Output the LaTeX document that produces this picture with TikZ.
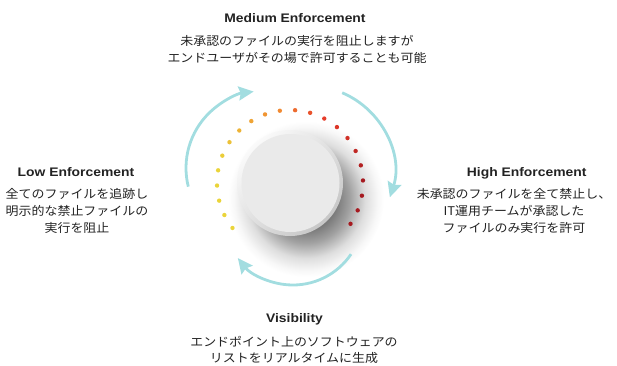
\documentclass[tikz,border=0pt]{standalone}
\usepackage{fontspec}
\setmainfont{Liberation Sans}
\newfontfamily\headfont{Liberation Sans}[FakeStretch=1.12]
\newfontfamily\jpfont{Noto Sans CJK JP}[FakeStretch=1.08]
\usetikzlibrary{arrows.meta}

\definecolor{cycleblue}{RGB}{162,221,224}
\definecolor{dotY}{RGB}{234,212,58}
\definecolor{dotO}{RGB}{241,138,50}
\definecolor{dotR}{RGB}{230,60,42}
\definecolor{dotD}{RGB}{166,26,32}
\definecolor{textdark}{RGB}{34,34,34}
\definecolor{knobface}{RGB}{234,234,234}

% soft drop shadow under the dial (TikZ maps 25bp to the circle's radius)
\pgfdeclareradialshading{knobshadow}{\pgfpoint{0bp}{0bp}}{%
  color(0bp)=(black!62); color(9bp)=(black!55); color(14bp)=(black!37);
  color(19bp)=(black!13); color(23bp)=(black!3); color(25bp)=(white);
  color(50bp)=(white)}

\tikzset{
  headtext/.style={font=\headfont\bfseries\fontsize{12.4}{14}\selectfont,
    text=textdark, inner sep=0pt, anchor=base},
  bodytext/.style={font=\jpfont\fontsize{12}{16.7}\selectfont,
    text=textdark, inner sep=0pt, align=center},
  cyclearrow/.style={draw=cycleblue, line width=2.8pt,
    -{Stealth[inset=2pt,length=15pt,width=14pt]}},
  leveldot/.style={fill=#1},
}

\begin{document}
\begin{tikzpicture}[x=1pt,y=1pt]
\path[use as bounding box] (0,0) rectangle (617,-365);

% shadow and dial
\shade[shading=knobshadow] (306,-199) circle (78);

% level dots, yellow to dark red, clockwise
\foreach \k/\c in {0/dotY,1/dotY,2/dotY,3/dotY,4/dotY,5/dotY!90!dotO,
    6/dotY!75!dotO,7/dotY!55!dotO,8/dotY!35!dotO,9/dotY!15!dotO,10/dotO,
    11/dotO!60!dotR,12/dotO!30!dotR,13/dotR,14/dotR!85!dotD,15/dotR!65!dotD,
    16/dotR!40!dotD,17/dotR!20!dotD,18/dotD,19/dotD,20/dotD,21/dotD}
  \fill[leveldot=\c, shift={(290,-183)}] ({218-12*\k}:73) circle (2.2);

\shade[top color=black!2, bottom color=black!22, shading angle=45]
  (290,-183) circle (53);
\fill[knobface] (290.5,-183) circle (49);

% cycle arrows
\coordinate (lowArc) at ([shift={(194:77)}]263,-168);
\coordinate (highArc) at ([shift={(67:85)}]309,-171);
\coordinate (visArc) at ([shift={(-34:70)}]293,-215);
\draw[cyclearrow] (lowArc) arc[start angle=194, end angle=97, radius=77];
\draw[cyclearrow] (highArc) arc[start angle=67, end angle=-18, radius=85];
\draw[cyclearrow] (visArc) arc[start angle=-34, end angle=-142, radius=70];

% labels
\node[headtext] (medHead) at (295,-22.7) {Medium Enforcement};
\node[bodytext] (medBody) at (297,-49.7)
  {未承認のファイルの実行を阻止しますが\\エンドユーザがその場で許可することも可能};

\node[headtext] (lowHead) at (76,-176) {Low Enforcement};
\node[bodytext] (lowBody) at (77,-211)
  {全てのファイルを追跡し\\明示的な禁止ファイルの\\実行を阻止};

\node[headtext] (highHead) at (526.7,-176) {High Enforcement};
\node[bodytext] (highBody) at (514,-211)
  {未承認のファイルを全て禁止し、\\IT運用チームが承認した\\ファイルのみ実行を許可};

\node[headtext] (visHead) at (294.5,-322.7) {Visibility};
\node[bodytext] (visBody) at (294,-350)
  {エンドポイント上のソフトウェアの\\リストをリアルタイムに生成};
\end{tikzpicture}
\end{document}
